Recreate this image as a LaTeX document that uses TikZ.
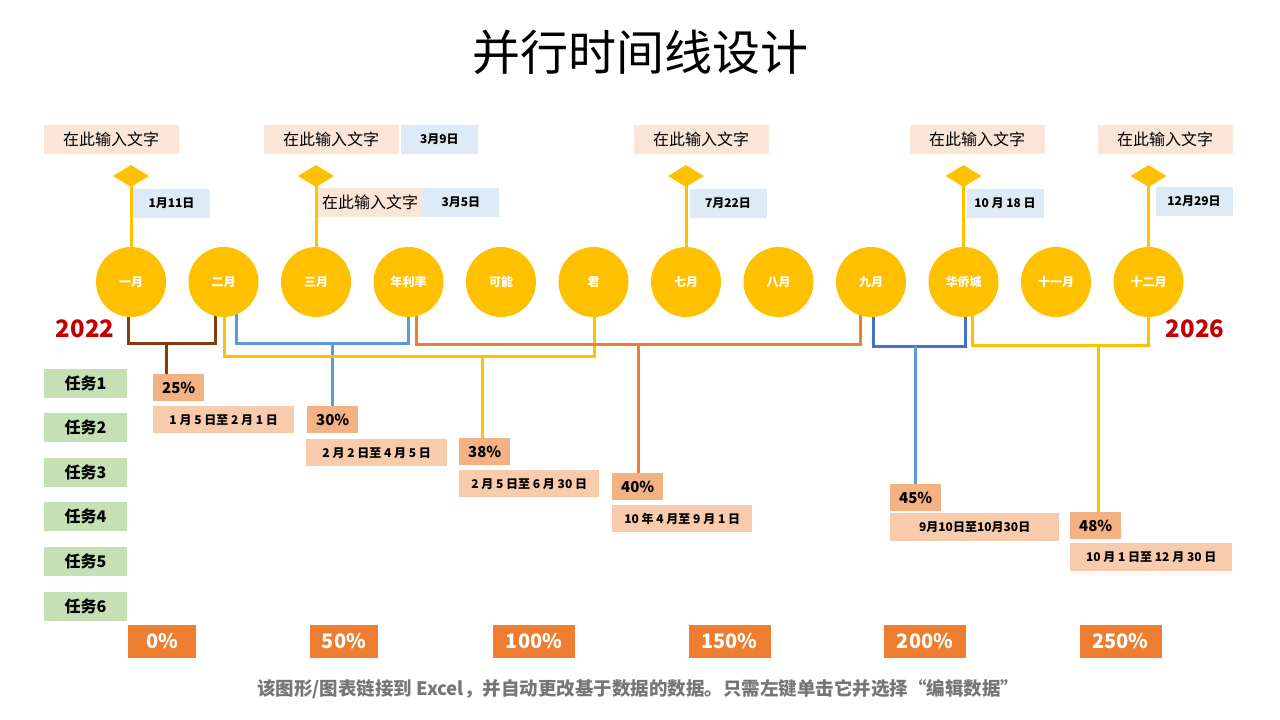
\documentclass[tikz,border=0pt]{standalone}
\usepackage{fontspec}
\setmainfont{Noto Sans CJK SC}
\usepackage{tikz}
\usetikzlibrary{positioning,shapes.geometric,backgrounds}
\definecolor{mYellow}{RGB}{255,192,0}
\definecolor{mBrown}{RGB}{132,60,12}
\definecolor{mBlue}{RGB}{91,155,213}
\definecolor{mDBlue}{RGB}{68,114,196}
\definecolor{mOrange}{RGB}{237,125,49}
\definecolor{mPink}{RGB}{251,229,214}
\definecolor{mSky}{RGB}{222,235,247}
\definecolor{mGreen}{RGB}{197,224,180}
\definecolor{mSalmon}{RGB}{244,177,131}
\definecolor{mPeach}{RGB}{248,203,173}
\definecolor{mRed}{RGB}{192,0,0}
\definecolor{mGray}{RGB}{118,118,118}

\begin{document}
\begin{tikzpicture}[x=1pt,y=-1pt,
  monthdot/.style={circle,fill=mYellow,minimum size=70pt,inner sep=0pt,text=white,font=\fontsize{12}{14}\selectfont\bfseries},
  flagmark/.style={diamond,fill=mYellow,minimum width=36pt,minimum height=22pt,inner sep=0pt},
  notebox/.style={fill=mPink,minimum width=135pt,minimum height=29pt,inner sep=0pt,font=\fontsize{16}{18}\selectfont},
  datetag/.style={fill=mSky,minimum width=77pt,minimum height=29pt,inner sep=0pt,font=\fontsize{12}{14}\selectfont\bfseries},
  taskbox/.style={fill=mGreen,minimum width=83pt,minimum height=29pt,inner sep=0pt,font=\fontsize{16}{18}\selectfont\bfseries},
  pctbox/.style={fill=mSalmon,anchor=north west,minimum width=51pt,minimum height=27pt,inner sep=0pt,font=\fontsize{15}{17}\selectfont\bfseries},
  spanbox/.style={fill=mPeach,anchor=north west,minimum width=141pt,minimum height=27pt,inner sep=0pt,font=\fontsize{12}{14}\selectfont\bfseries},
  scalebox/.style={fill=mOrange,text=white,minimum width=82pt,minimum height=33pt,inner sep=0pt,font=\fontsize{20}{22}\selectfont\bfseries},
  yearlbl/.style={text=mRed,font=\fontsize{24}{26}\selectfont\bfseries},
  linkln/.style={line width=3pt}]
\useasboundingbox (0,0) rectangle (1280,720);
% title
\node[font=\fontsize{48}{52}\selectfont] (title) at (640,52) {并行时间线设计};
% months
\foreach \i/\t in {1/一月,2/二月,3/三月,4/年利率,5/可能,6/君,7/七月,8/八月,9/九月,10/华侨城,11/十一月,12/十二月}
  \node[monthdot] (m\i) at ({131+92.5*(\i-1)},282) {\t};
\foreach \i in {1,3,7,10,12}
  \node[flagmark] (f\i) at (m\i |- 0,176) {};
% top notes
\node[notebox] (t1) at (111,139) {在此输入文字};
\node[datetag] (g1) at (171.5,203.5) {1月11日};
\node[notebox] (t3) at (331,139) {在此输入文字};
\node[datetag,right=2pt of t3] (g3a) {3月9日};
\node[notebox,minimum width=104pt] (t3b) at (370,202.5) {在此输入文字};
\node[datetag,right=0pt of t3b] (g3b) {3月5日};
\node[notebox] (t7) at (701,139) {在此输入文字};
\node[datetag] (g7) at (728,203.5) {7月22日};
\node[notebox] (t10) at (977,139) {在此输入文字};
\node[datetag] (g10) at (1005,203.5) {10 月 18 日};
\node[notebox] (t12) at (1165,139) {在此输入文字};
\node[datetag] (g12) at (1194,201.5) {12月29日};
% years
\node[yearlbl] (y1) at (85,329) {2022};
\node[yearlbl] (y2) at (1195,329) {2026};
% tasks
\foreach \i in {1,...,6}
  \node[taskbox] (k\i) at (85.5,{383+44.6*(\i-1)}) {任务\i};
% progress
\node[pctbox] (p1) at (153,374) {25\%};
\node[spanbox] (d1) at (153,406) {1 月 5 日至 2 月 1 日};
\node[pctbox] (p2) at (307,406) {30\%};
\node[spanbox] (d2) at (306,439) {2 月 2 日至 4 月 5 日};
\node[pctbox] (p3) at (459,438) {38\%};
\node[spanbox,minimum width=140pt] (d3) at (459,470) {2 月 5 日至 6 月 30 日};
\node[pctbox] (p4) at (612,473) {40\%};
\node[spanbox,minimum width=140pt] (d4) at (612,505) {10 年 4 月至 9 月 1 日};
\node[pctbox] (p5) at (890,484) {45\%};
\node[spanbox,minimum width=169pt,minimum height=28pt] (d5) at (890,513) {9月10日至10月30日};
\node[pctbox] (p6) at (1070,512) {48\%};
\node[spanbox,minimum width=162pt,minimum height=28pt] (d6) at (1070,543) {10 月 1 日至 12 月 30 日};
% scale
\node[scalebox,minimum width=68pt] (s1) at (162,641.5) {0\%};
\node[scalebox,minimum width=68pt] (s2) at (344,641.5) {50\%};
\node[scalebox] (s3) at (534,641.5) {100\%};
\node[scalebox] (s4) at (729.5,641.5) {150\%};
\node[scalebox] (s5) at (925,641.5) {200\%};
\node[scalebox] (s6) at (1120.5,641.5) {250\%};
\node[text=mGray,font=\fontsize{18.5}{20}\selectfont\bfseries] (foot) at (638,689) {该图形/图表链接到 Excel，并自动更改基于数据的数据。只需左键单击它并选择“编辑数据”};
% connectors
\coordinate (j1) at (166,343);
\coordinate (j2) at (332,343);
\coordinate (j3) at (482,356);
\coordinate (j4) at (638,344);
\coordinate (j5) at (915,346);
\coordinate (j6) at (1098,345);
\begin{scope}[on background layer]
\foreach \i in {1,3,7,10,12}
  \draw[linkln,mYellow] (f\i.center) -- (m\i.center);
\draw[linkln,mBrown] ([xshift=-3pt]m1.center) |- (j1) -| ([xshift=-8pt]m2.center);
\draw[linkln,mBrown] (j1) -- (j1 |- p1.north);
\draw[linkln,mBlue] ([xshift=13pt]m2.center) |- (j2) -| (m4.center);
\draw[linkln,mBlue] (j2) -- (j2 |- p2.north);
\draw[linkln,mYellow] ([xshift=1pt]m2.center) |- (j3) -| ([xshift=1pt]m6.center);
\draw[linkln,mYellow] (j3) -- (j3 |- p3.north);
\draw[linkln,mOrange] ([xshift=8pt]m4.center) |- (j4) -| ([xshift=-11pt]m9.center);
\draw[linkln,mOrange] (j4) -- (j4 |- p4.north);
\draw[linkln,mDBlue] ([xshift=2pt]m9.center) |- (j5) -| ([xshift=2pt]m10.center);
\draw[linkln,mBlue] (j5) -- (j5 |- p5.north);
\draw[linkln,mYellow] ([xshift=9pt]m10.center) |- (j6) -| (m12.center);
\draw[linkln,mYellow] (j6) -- (j6 |- p6.north);
\end{scope}
\end{tikzpicture}
\end{document}
